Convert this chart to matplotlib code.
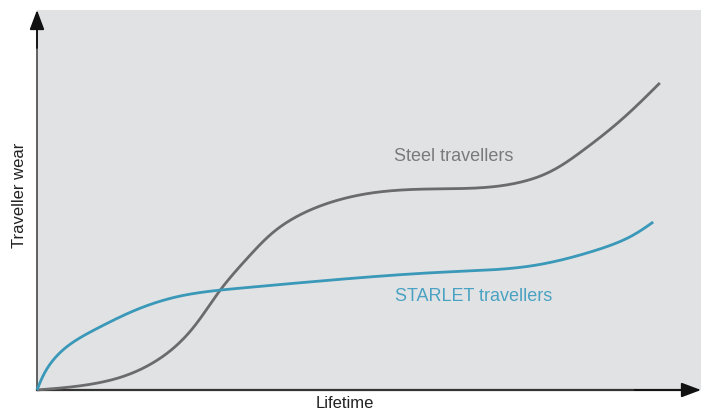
import matplotlib.pyplot as plt
import numpy as np

# Wear curves (lifetime 0-100, wear 0-100)
steel_x = [0, 6.5, 12.5, 18.5, 23.0, 27.6, 32.1, 36.6, 42.6, 50.2, 59.2,
           69.7, 75.8, 81.8, 87.8, 93.8]
steel_y = [0, 1.1, 3.3, 8.3, 15.3, 26.3, 35.5, 42.9, 48.4, 51.8, 52.9,
           53.7, 56.3, 62.5, 70.8, 80.8]

starlet_x = [0, 1.4, 4.8, 9.5, 15.5, 21.5, 30.6, 44.1, 62.2, 74.2,
             83.3, 89.3, 92.8]
starlet_y = [0, 5.3, 11.8, 16.6, 21.5, 24.7, 26.8, 28.9, 31.1, 32.6,
             36.3, 40.3, 44.2]


def natural_spline(t, v, ts):
    # natural cubic spline through (t, v), evaluated at ts
    n = len(t)
    h = np.diff(t)
    A = np.zeros((n, n))
    r = np.zeros(n)
    A[0, 0] = A[-1, -1] = 1
    for i in range(1, n - 1):
        A[i, i - 1] = h[i - 1]
        A[i, i] = 2 * (h[i - 1] + h[i])
        A[i, i + 1] = h[i]
        r[i] = 3 * ((v[i + 1] - v[i]) / h[i] - (v[i] - v[i - 1]) / h[i - 1])
    c = np.linalg.solve(A, r)
    b = np.diff(v) / h - h * (2 * c[:-1] + c[1:]) / 3
    d = np.diff(c) / (3 * h)
    k = np.clip(np.searchsorted(t, ts) - 1, 0, n - 2)
    dt = ts - t[k]
    return v[k] + b[k] * dt + c[k] * dt**2 + d[k] * dt**3


def smooth(x, y, n=600):
    # parametric spline on chord length, so a vertical start is fine
    x = np.asarray(x, float)
    y = np.asarray(y, float)
    t = np.concatenate([[0], np.cumsum(np.hypot(np.diff(x), np.diff(y)))])
    ts = np.linspace(0, t[-1], n)
    return natural_spline(t, x, ts), natural_spline(t, y, ts)


plt.rcParams['font.family'] = ['Liberation Sans', 'DejaVu Sans']

fig = plt.figure(figsize=(7.06, 4.17), dpi=100)
ax = fig.add_axes([37 / 706, 27 / 417, 664 / 706, 380 / 417])
ax.set_facecolor('#e1e2e4')
ax.set_xlim(0, 100)
ax.set_ylim(0, 100)
for s in ax.spines.values():
    s.set_visible(False)
ax.set_xticks([])
ax.set_yticks([])

# axes with arrow heads
ax.plot([0, 0], [0, 96], color='#555555', lw=1.3, clip_on=False)
ax.plot([0, 97], [0, 0], color='#333333', lw=1.6, clip_on=False)
head = '-|>,head_length=1.2,head_width=0.45'
ax.annotate('', xy=(0, 1.0), xytext=(0, 0.9), xycoords='axes fraction',
            arrowprops=dict(arrowstyle=head, color='#111111', lw=1.3,
                            mutation_scale=10, shrinkA=0, shrinkB=0))
ax.annotate('', xy=(1.0, 0), xytext=(0.9, 0), xycoords='axes fraction',
            arrowprops=dict(arrowstyle=head, color='#111111', lw=1.3,
                            mutation_scale=10, shrinkA=0, shrinkB=0))

sx, sy = smooth(steel_x, steel_y)
bx, by = smooth(starlet_x, starlet_y)
ax.plot(sx, sy, color='#6b6b6d', lw=2.0, solid_capstyle='butt', clip_on=False)
ax.plot(bx, by, color='#3a98b8', lw=2.0, solid_capstyle='butt', clip_on=False)

ax.text(62.7, 61.5, 'Steel travellers', color='#7a7a7c', fontsize=13,
        ha='center', va='center')
ax.text(65.7, 24.7, 'STARLET travellers', color='#4aa2c2', fontsize=13,
        ha='center', va='center')

fig.text(345 / 706, 1 - 403 / 417, 'Lifetime', fontsize=12, color='#222222',
         ha='center', va='center')
fig.text(20 / 706, 1 - 195 / 417, 'Traveller wear', fontsize=12,
         color='#222222', ha='center', va='center', rotation=90)

fig.savefig('out.png', dpi=100, facecolor='white')
